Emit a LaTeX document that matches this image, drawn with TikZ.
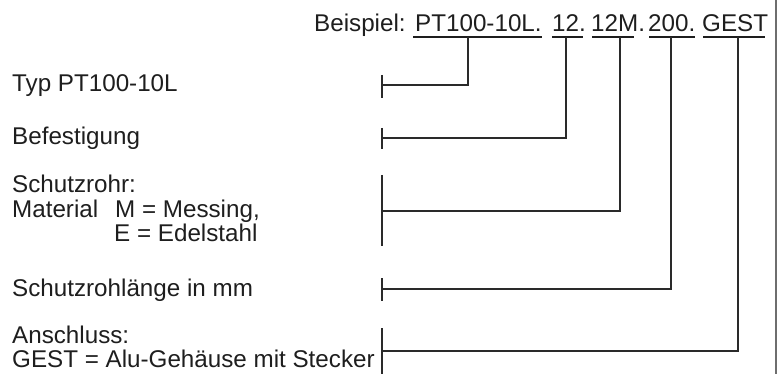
\documentclass[tikz,border=0pt]{standalone}
\usepackage{fontspec}
\setmainfont{Liberation Sans}
\definecolor{ink}{HTML}{1E1E1E}
\definecolor{linec}{HTML}{2A2A2A}
\definecolor{framec}{HTML}{6E6E6E}
\begin{document}
\begin{tikzpicture}[x=1pt,y=-1pt,
  txt/.style={anchor=base west,inner sep=0pt,font=\fontsize{24.2}{25}\selectfont,text=ink},
  conn/.style={draw=linec,line width=2.6pt},
  uline/.style={draw=ink,line width=1.6pt},
  frame/.style={draw=framec,line width=1.5pt}]
\useasboundingbox (0,0) rectangle (782,374);
% right frame line
\coordinate (fa) at (776,0);
\coordinate (fb) at (776,374);
\draw[frame] (fa) -- (fb);
% example code
\node[txt] (bsp) at (314,32) {Beispiel:};
\node[txt] (k1) at (415,32) {PT100-10L.};
\node[txt] (k2) at (552,32) {12.};
\node[txt] (k3) at (591,32) {12M.};
\node[txt] (k4) at (648,32) {200.};
\node[txt] (k5) at (702,32) {GEST};
% underlines
\coordinate (u1a) at (413,37); \coordinate (u1b) at (542,37);
\coordinate (u2a) at (552,37); \coordinate (u2b) at (583,37);
\coordinate (u3a) at (592,37); \coordinate (u3b) at (634,37);
\coordinate (u4a) at (649,37); \coordinate (u4b) at (695,37);
\coordinate (u5a) at (703,37); \coordinate (u5b) at (765,37);
\draw[uline] (u1a) -- (u1b);
\draw[uline] (u2a) -- (u2b);
\draw[uline] (u3a) -- (u3b);
\draw[uline] (u4a) -- (u4b);
\draw[uline] (u5a) -- (u5b);
% labels
\node[txt] (l1) at (12,92) {Typ PT100-10L};
\node[txt] (l2) at (12,145) {Befestigung};
\node[txt] (l3a) at (12,193) {Schutzrohr:};
\node[txt] (l3b) at (12,218) {Material};
\node[txt] (l3c) at (115,218) {M = Messing,};
\node[txt] (l3d) at (114,242) {E = Edelstahl};
\node[txt] (l4) at (12,296) {Schutzrohlänge in mm};
\node[txt] (l5a) at (12,343) {Anschluss:};
\node[txt] (l5b) at (12,367) {GEST = Alu-Gehäuse mit Stecker};
% brackets (ticks)
\coordinate (t1a) at (382,75);  \coordinate (t1b) at (382,98);
\coordinate (t2a) at (382,128); \coordinate (t2b) at (382,149);
\coordinate (t3a) at (382,175); \coordinate (t3b) at (382,246);
\coordinate (t4a) at (382,278); \coordinate (t4b) at (382,301);
\coordinate (t5a) at (382,328); \coordinate (t5b) at (382,374);
\draw[conn] (t1a) -- (t1b);
\draw[conn] (t2a) -- (t2b);
\draw[conn] (t3a) -- (t3b);
\draw[conn] (t4a) -- (t4b);
\draw[conn] (t5a) -- (t5b);
% junctions on the brackets
\coordinate (h1) at (382,85);
\coordinate (h2) at (382,138);
\coordinate (h3) at (382,211);
\coordinate (h4) at (382,289);
\coordinate (h5) at (382,351);
% top ends under the underlines
\coordinate (v1) at (468,37);
\coordinate (v2) at (566,37);
\coordinate (v3) at (620,37);
\coordinate (v4) at (671,37);
\coordinate (v5) at (738,37);
\draw[conn] (h1) -| (v1);
\draw[conn] (h2) -| (v2);
\draw[conn] (h3) -| (v3);
\draw[conn] (h4) -| (v4);
\draw[conn] (h5) -| (v5);
\end{tikzpicture}
\end{document}
